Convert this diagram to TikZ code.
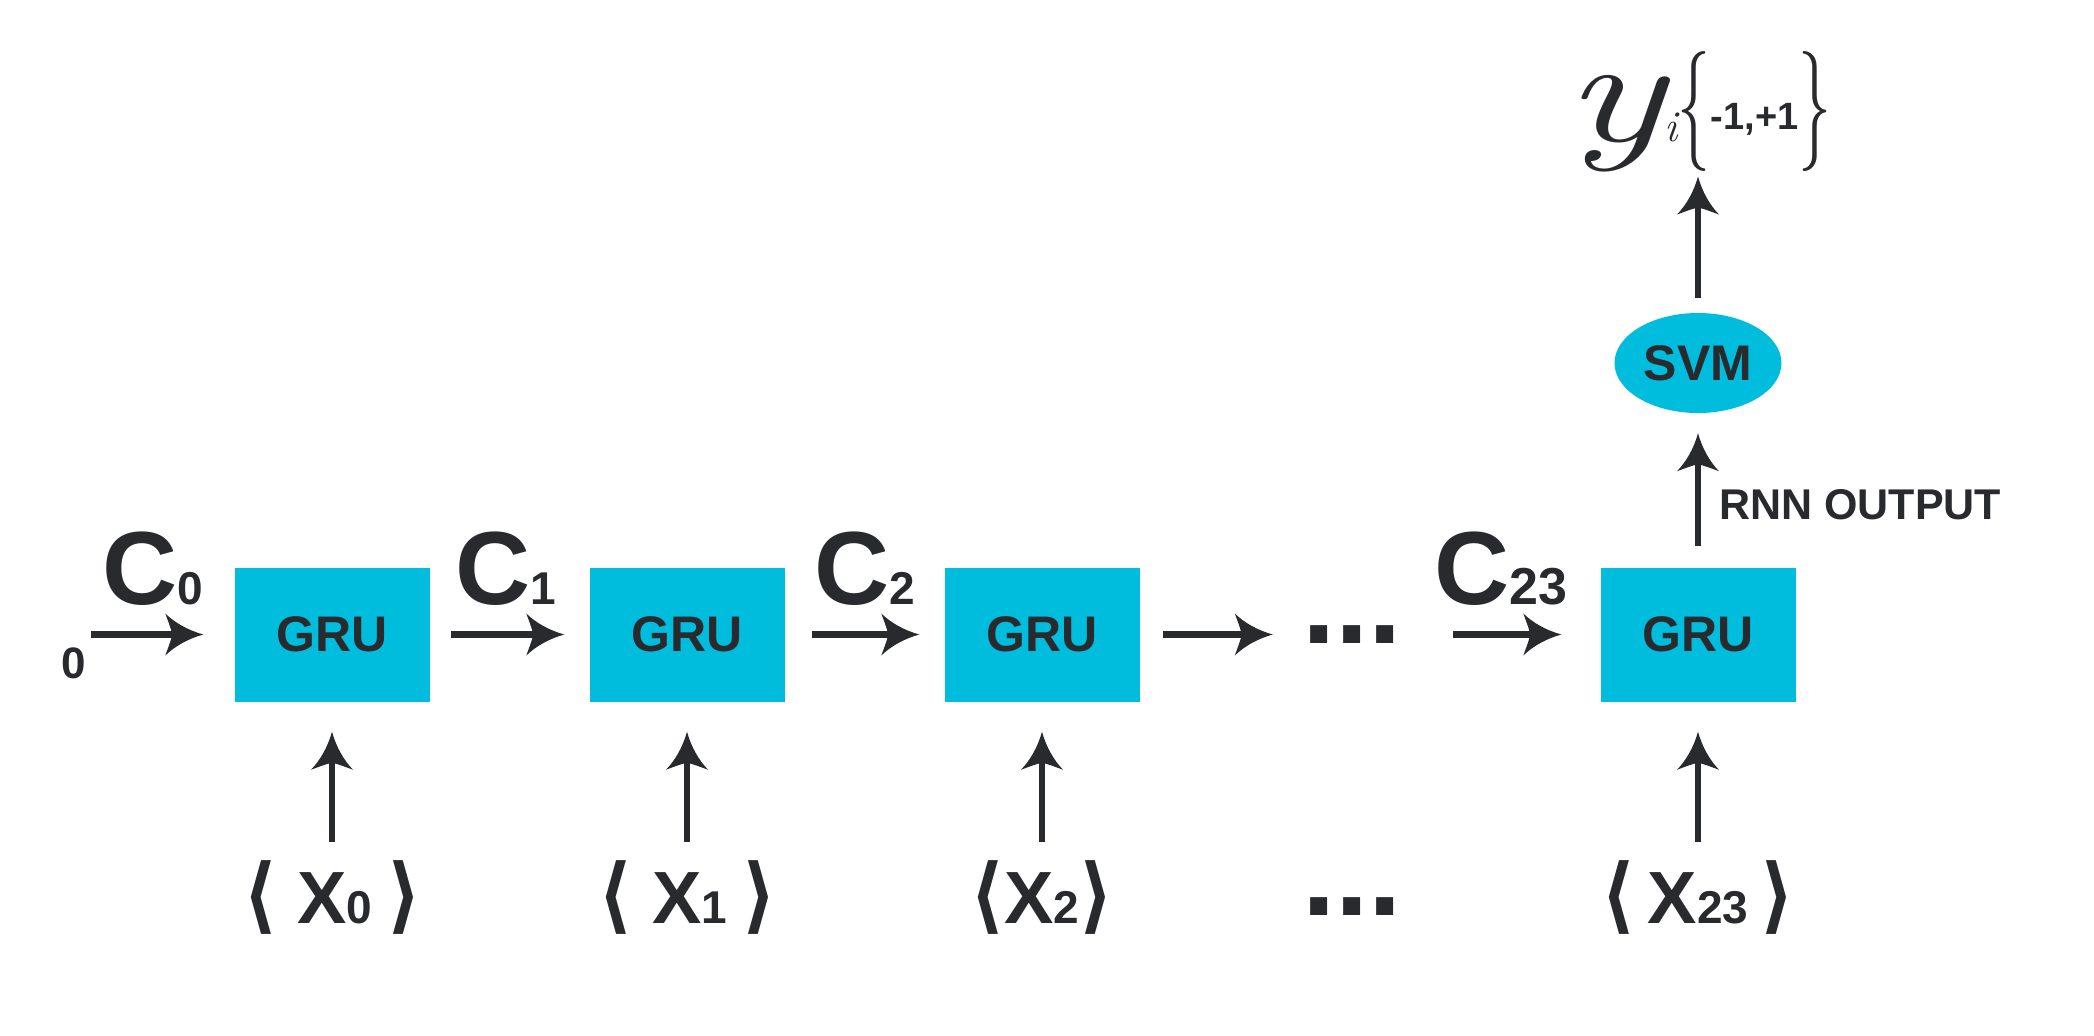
\documentclass[tikz,border=0pt]{standalone}
\usepackage{fontspec}
\setmainfont{Liberation Sans}
\newfontfamily\bracketfont{DejaVu Sans}
\newfontfamily\serifit{Latin Modern Roman}
\usetikzlibrary{shapes,arrows.meta}
\usetikzlibrary{positioning}
\definecolor{grucyan}{HTML}{00BCDD}
\definecolor{ink}{HTML}{292A2D}
\newcommand{\fs}[1]{\fontsize{#1}{#1}\selectfont}
\newcommand{\idx}[1]{{\fs{23}#1}}
\newcommand{\seq}[1]{\scalebox{1}[1.12]{\bracketfont ⟨}#1\scalebox{1}[1.12]{\bracketfont ⟩}}
\newcommand{\setbrace}[1]{\scalebox{0.55}[1]{\serifit\mdseries\fs{60}#1}}
\pgfdeclarearrow{
  name = Swept,
  parameters = {\the\pgfarrowlength,\the\pgfarrowwidth},
  setup code = {
    \pgfarrowssettipend{0pt}
    \pgfarrowssetbackend{-\pgfarrowlength}
    \pgfarrowssetlineend{-.7\pgfarrowlength}
    \pgfarrowssavethe\pgfarrowlength
    \pgfarrowssavethe\pgfarrowwidth
  },
  drawing code = {
    \pgfpathmoveto{\pgfpointorigin}
    \pgfpathcurveto{\pgfpoint{-.4\pgfarrowlength}{.1\pgfarrowwidth}}{\pgfpoint{-.75\pgfarrowlength}{.28\pgfarrowwidth}}{\pgfpoint{-\pgfarrowlength}{.5\pgfarrowwidth}}
    \pgfpathcurveto{\pgfpoint{-.92\pgfarrowlength}{.3\pgfarrowwidth}}{\pgfpoint{-.84\pgfarrowlength}{.12\pgfarrowwidth}}{\pgfpoint{-.82\pgfarrowlength}{0pt}}
    \pgfpathcurveto{\pgfpoint{-.84\pgfarrowlength}{-.12\pgfarrowwidth}}{\pgfpoint{-.92\pgfarrowlength}{-.3\pgfarrowwidth}}{\pgfpoint{-\pgfarrowlength}{-.5\pgfarrowwidth}}
    \pgfpathcurveto{\pgfpoint{-.75\pgfarrowlength}{-.28\pgfarrowwidth}}{\pgfpoint{-.4\pgfarrowlength}{-.1\pgfarrowwidth}}{\pgfpointorigin}
    \pgfpathclose
    \pgfusepathqfill
  },
  defaults = {length=19pt, width=21pt}
}
\tikzstyle{block} = [fill=grucyan, rectangle, minimum width=97.5pt, minimum height=67pt, font=\bfseries\fs{25}]
\tikzstyle{svm} = [fill=grucyan, ellipse, minimum width=83.5pt, minimum height=50pt, inner sep=0pt, font=\bfseries\fs{25}]
\tikzstyle{input} = [coordinate]
\tikzstyle{statelabel} = [inner sep=0pt, font=\bfseries\fs{52}]
\tikzstyle{seqinput} = [inner sep=0pt, font=\bfseries\fs{37}]
\tikzstyle{skipdots} = [inner sep=0pt, font=\bfseries\fs{60}]

\begin{document}
\begin{tikzpicture}[auto, node distance=177.5pt, >=Swept, line width=3.2pt, draw=ink, text=ink]
    \useasboundingbox (0,0) rectangle (1047pt,-517.5pt);
    % Placing the blocks
    \node [block] (gru0) at (166pt,-317.25pt) {GRU};
    \node [block, right of=gru0] (gru1) {GRU};
    \node [block, right of=gru1] (gru2) {GRU};
    \node [skipdots, right of=gru2, node distance=155pt] (more) {...};
    \node [block, right of=more, node distance=173pt] (gru23) {GRU};
    \node [svm, above of=gru23, node distance=135.75pt] (svm) {SVM};
    \node [above of=svm, node distance=125.5pt, inner sep=0pt, font=\bfseries] (label) {\scalebox{1.4}[1]{\serifit\mdseries\itshape\fs{75}y}{\serifit\mdseries\itshape\fs{22}i}\setbrace{\{}\raisebox{6pt}{\fs{19}-1,+1}\setbrace{\}}};
    \node [input, left of=gru0, node distance=120.5pt] (input) {};
    \node [below left=5pt and 1pt of input, inner sep=0pt, font=\bfseries\fs{22}] (zero) {0};

    % Placing the inputs
    \node [seqinput, below of=gru0, node distance=131.75pt] (x0) {\seq{ X\idx{0}\kern-3pt{} }};
    \node [seqinput, below of=gru1, node distance=131.75pt] (x1) {\seq{ X\idx{1}\kern-3pt{} }};
    \node [seqinput, below of=gru2, node distance=131.75pt] (x2) {\seq{X\idx{2}}};
    \node [skipdots, below of=more, node distance=136.25pt] (moreinputs) {...};
    \node [seqinput, below of=gru23, node distance=131.75pt] (x23) {\seq{\,X\idx{23}\,}};

    % Connecting the nodes
    \draw [->, shorten >=14pt] (input) -- node [statelabel, above=13pt, xshift=-4pt] {C\idx{0}} (gru0);
    \draw [->, shorten <=9pt, shorten >=11pt] (gru0) -- node [statelabel, above=13pt, xshift=-2pt] {C\idx{1}} (gru1);
    \draw [->, shorten <=12pt, shorten >=11pt] (gru1) -- node [statelabel, above=13pt] {C\idx{2}} (gru2);
    \draw [->, shorten <=10pt, shorten >=13pt] (gru2) -- (more);
    \draw [->, shorten <=24pt, shorten >=18pt] (more) -- node [statelabel, above=13pt] {C{\fs{26}23}} (gru23);
    \draw [->, shorten <=9pt, shorten >=8.5pt] (gru23) -- node [right=9pt, pos=0.4, inner sep=0pt, font=\bfseries\fs{21.5}] {RNN OUTPUT} (svm);
    \draw [->, shorten <=6pt, shorten >=0.5pt] (svm) -- (label);
    \foreach \i in {0,1,2,23}
        \draw [->, shorten <=8pt, shorten >=13.5pt] (x\i) -- (gru\i);
\end{tikzpicture}
\end{document}
